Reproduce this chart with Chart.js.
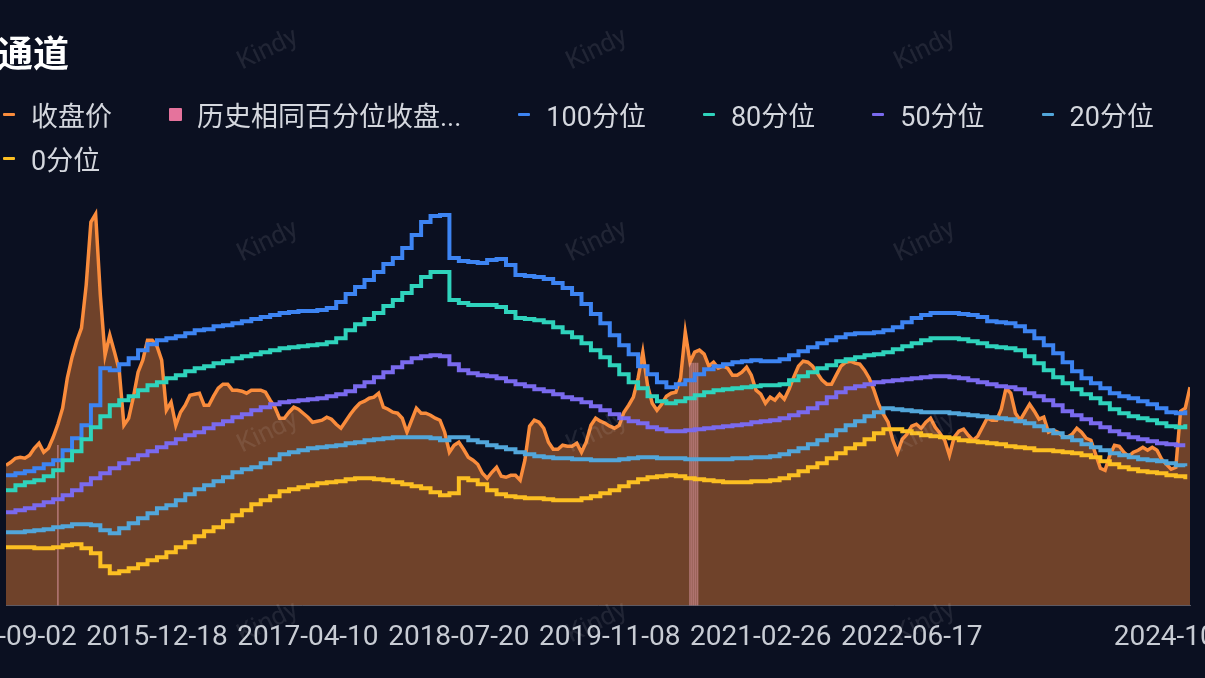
<!DOCTYPE html>
<html lang="zh">
<head>
<meta charset="utf-8">
<title>通道</title>
<script src="https://cdn.jsdelivr.net/npm/chart.js@4.4.1/dist/chart.umd.min.js"></script>
<style>
html, body { margin: 0; padding: 0; width: 1205px; height: 678px; overflow: hidden; background: #0b1021; }
#title { position: absolute; left: -3px; top: 33px; font: bold 36px "Noto Sans CJK SC", sans-serif; line-height: 1; color: #fff; z-index: 2; }
#legend { position: absolute; left: 3px; top: 99px; width: 1202px; display: flex; flex-wrap: wrap; column-gap: 57px; row-gap: 14px;
          font: 27px Roboto, "Noto Sans CJK SC", sans-serif; color: #d4d7de; z-index: 2; }
.item { display: flex; align-items: center; height: 30px; white-space: nowrap; }
.icon { display: inline-block; border-radius: 1px; }
#wrap { position: absolute; left: -200px; top: 0; width: 1605px; height: 678px; }
</style>
</head>
<body>
<div id="title">通道</div>
<div id="legend"></div>
<div id="wrap"><canvas id="chart"></canvas></div>
<script>
// trading-day span of the window and the dates shown on the axis
const totalDays = 2510;
const tickDays = [0, 320, 640, 960, 1280, 1600, 1920, 2498];
const tickLabels = ["2014-09-02", "2015-12-18", "2017-04-10", "2018-07-20", "2019-11-08", "2021-02-26", "2022-06-17", "2024-10-18"];

// close price, one value every 10 trading days
const closeVals = [
  14.0, 14.3, 14.7, 14.8, 14.7, 15.0, 15.7, 16.2, 15.3, 15.7,
  16.8, 18.1, 19.7, 22.7, 24.8, 26.4, 27.7, 32.0, 38.3, 39.1,
  31.0, 25.0, 27.0, 25.3, 23.5, 18.0, 18.7, 20.8, 23.3, 24.5,
  26.5, 26.5, 25.9, 24.5, 19.5, 20.3, 18.0, 19.3, 20.0, 21.0,
  21.1, 21.2, 20.0, 20.0, 20.9, 21.7, 22.1, 22.1, 21.5, 21.5,
  21.4, 21.2, 21.5, 21.5, 21.5, 21.3, 20.5, 19.8, 18.7, 18.7,
  19.3, 19.8, 19.6, 19.2, 18.8, 18.3, 18.4, 18.5, 18.8, 18.6,
  18.1, 17.7, 18.4, 19.1, 19.7, 20.2, 20.4, 20.7, 20.8, 21.2,
  19.8, 19.6, 19.3, 19.2, 18.7, 17.3, 18.5, 19.7, 19.2, 19.2,
  19.0, 18.7, 18.5, 17.3, 15.3, 16.0, 16.3, 15.6, 14.8, 14.5,
  14.1, 13.2, 12.7, 13.3, 13.8, 12.9, 12.8, 13.0, 13.0, 12.5,
  14.5, 17.9, 18.5, 18.3, 17.7, 16.3, 15.6, 15.6, 16.0, 15.9,
  15.9, 16.2, 15.3, 16.3, 18.0, 18.7, 18.4, 18.2, 17.9, 17.7,
  18.0, 19.3, 20.0, 20.8, 22.7, 25.3, 22.0, 20.2, 19.5, 20.1,
  20.9, 21.2, 21.3, 22.7, 27.3, 24.3, 25.3, 25.5, 25.1, 23.9,
  24.3, 23.7, 23.9, 23.7, 23.0, 23.0, 23.3, 23.8, 23.0, 21.5,
  21.1, 20.2, 20.8, 20.5, 21.1, 20.6, 21.6, 22.8, 23.9, 24.4,
  24.3, 23.9, 23.2, 22.5, 22.1, 22.1, 23.0, 23.9, 24.3, 24.4,
  24.2, 24.1, 23.5, 22.7, 21.5, 20.1, 19.1, 18.3, 16.5, 15.3,
  16.6, 17.1, 17.9, 18.1, 17.7, 18.3, 18.7, 17.8, 17.2, 16.5,
  15.0, 16.8, 17.4, 17.6, 17.0, 16.5, 16.9, 17.8, 18.7, 18.5,
  18.5, 19.6, 21.7, 21.2, 19.2, 18.5, 19.3, 20.1, 19.4, 18.6,
  18.8, 17.3, 17.5, 17.3, 16.9, 16.8, 17.1, 17.7, 17.3, 16.7,
  16.5, 15.1, 13.7, 13.5, 15.0, 16.0, 15.9, 15.3, 14.9, 15.3,
  15.5, 15.8, 15.5, 15.8, 15.5, 14.6, 14.1, 13.6, 13.8, 19.4,
  19.7, 21.8
];

// percentile channel lines, one value every 20 trading days
const p100Vals = [
  13.0, 13.2, 13.4, 13.7, 14.1, 14.5, 15.5, 16.7, 18.0, 20.0,
  23.7, 23.5, 24.1, 24.7, 25.5, 26.1, 26.5, 26.7, 26.9, 27.2,
  27.5, 27.6, 27.9, 28.0, 28.2, 28.4, 28.6, 28.8, 29.0, 29.2,
  29.3, 29.4, 29.4, 29.5, 29.7, 30.3, 31.1, 31.8, 32.5, 33.3,
  34.1, 34.7, 35.7, 37.0, 38.3, 38.9, 39.0, 34.7, 34.4, 34.3,
  34.2, 34.5, 34.6, 34.0, 33.0, 32.9, 32.8, 32.6, 32.2, 31.7,
  31.1, 30.1, 29.1, 28.2, 27.0, 26.0, 25.1, 23.9, 23.1, 22.3,
  21.8, 22.1, 22.5, 23.1, 23.6, 23.9, 24.1, 24.3, 24.4, 24.5,
  24.4, 24.4, 24.6, 25.0, 25.4, 25.8, 26.2, 26.5, 26.8, 27.1,
  27.2, 27.2, 27.3, 27.5, 27.8, 28.3, 28.7, 29.0, 29.2, 29.2,
  29.2, 29.1, 29.0, 28.8, 28.4, 28.3, 28.2, 27.9, 27.4, 26.7,
  26.0, 25.2, 24.3, 23.4, 22.7, 22.2, 21.7, 21.2, 20.9, 20.7,
  20.4, 20.1, 19.7, 19.3, 19.2, 19.5
];
const p80Vals = [
  11.5, 12.0, 12.3, 12.5, 12.9, 13.5, 14.5, 15.4, 16.6, 17.8,
  18.9, 20.0, 20.5, 20.9, 21.5, 22.0, 22.3, 22.7, 23.0, 23.4,
  23.7, 23.9, 24.2, 24.4, 24.7, 24.9, 25.1, 25.3, 25.5, 25.7,
  25.8, 25.9, 26.0, 26.1, 26.3, 26.7, 27.5, 28.1, 28.6, 29.2,
  29.9, 30.5, 31.2, 31.9, 32.8, 33.3, 33.3, 30.5, 30.2, 30.0,
  30.0, 30.0, 29.8, 29.3, 28.7, 28.6, 28.5, 28.3, 27.8, 27.3,
  26.8, 26.2, 25.5, 24.8, 24.0, 23.1, 22.3, 21.7, 20.9, 20.4,
  20.2, 20.4, 20.7, 21.0, 21.3, 21.5, 21.6, 21.7, 21.8, 21.9,
  22.0, 22.0, 22.1, 22.5, 22.9, 23.3, 23.7, 24.0, 24.4, 24.6,
  24.8, 25.0, 25.1, 25.3, 25.6, 25.9, 26.2, 26.5, 26.7, 26.7,
  26.7, 26.6, 26.4, 26.2, 25.9, 25.8, 25.7, 25.5, 24.9, 24.2,
  23.5, 22.8, 22.2, 21.6, 21.1, 20.7, 20.2, 19.6, 19.2, 18.9,
  18.7, 18.5, 18.2, 17.9, 17.8, 18.1
];
const p50Vals = [
  9.3, 9.5, 9.7, 10.0, 10.3, 10.6, 11.0, 11.5, 12.1, 12.7,
  13.2, 13.7, 14.2, 14.6, 15.0, 15.4, 15.8, 16.2, 16.6, 17.0,
  17.3, 17.7, 18.1, 18.4, 18.8, 19.1, 19.5, 19.8, 20.1, 20.3,
  20.4, 20.5, 20.6, 20.7, 20.9, 21.1, 21.4, 21.9, 22.3, 22.8,
  23.3, 23.8, 24.3, 24.7, 24.9, 25.0, 24.9, 24.1, 23.5, 23.2,
  23.0, 22.9, 22.7, 22.4, 22.1, 21.9, 21.6, 21.4, 21.1, 20.8,
  20.6, 20.3, 19.9, 19.5, 19.1, 18.7, 18.4, 18.2, 17.8, 17.6,
  17.4, 17.4, 17.5, 17.6, 17.7, 17.8, 17.9, 18.0, 18.1, 18.3,
  18.4, 18.5, 18.7, 19.0, 19.3, 19.7, 20.2, 20.8, 21.3, 21.7,
  21.9, 22.1, 22.3, 22.4, 22.5, 22.6, 22.7, 22.8, 22.9, 22.9,
  22.8, 22.7, 22.5, 22.3, 22.1, 21.9, 21.8, 21.6, 21.2, 20.9,
  20.5, 20.0, 19.4, 19.0, 18.6, 18.2, 17.8, 17.4, 17.1, 16.8,
  16.6, 16.4, 16.2, 16.1, 16.0, 16.0
];
const p20Vals = [
  7.3, 7.3, 7.4, 7.5, 7.6, 7.8, 7.9, 8.1, 8.1, 8.0,
  7.5, 7.2, 7.7, 8.2, 8.7, 9.2, 9.7, 10.0, 10.5, 11.1,
  11.6, 12.0, 12.4, 12.8, 13.3, 13.6, 13.8, 14.2, 14.6, 15.1,
  15.3, 15.5, 15.7, 15.8, 15.9, 16.0, 16.2, 16.3, 16.5, 16.6,
  16.7, 16.8, 16.8, 16.8, 16.8, 16.7, 16.5, 16.8, 16.8, 16.5,
  16.3, 16.0, 15.8, 15.6, 15.3, 15.1, 14.9, 14.8, 14.7, 14.7,
  14.6, 14.6, 14.5, 14.5, 14.5, 14.6, 14.7, 14.8, 14.8, 14.7,
  14.7, 14.7, 14.6, 14.6, 14.6, 14.6, 14.6, 14.7, 14.7, 14.8,
  14.8, 14.9, 15.1, 15.4, 15.7, 16.1, 16.5, 17.0, 17.5, 18.0,
  18.4, 18.9, 19.3, 19.7, 19.6, 19.5, 19.4, 19.3, 19.3, 19.3,
  19.2, 19.1, 19.0, 18.9, 18.8, 18.7, 18.6, 18.4, 18.2, 17.9,
  17.5, 17.2, 16.8, 16.5, 16.1, 15.8, 15.5, 15.2, 15.0, 14.8,
  14.6, 14.5, 14.4, 14.2, 14.0, 13.9
];
const p0Vals = [
  5.8, 5.8, 5.8, 5.7, 5.7, 5.8, 6.0, 6.1, 5.7, 5.2,
  3.9, 3.2, 3.4, 3.7, 4.1, 4.5, 4.8, 5.3, 5.8, 6.3,
  6.9, 7.4, 7.8, 8.4, 9.0, 9.5, 10.1, 10.5, 10.9, 11.4,
  11.6, 11.8, 12.0, 12.2, 12.3, 12.4, 12.6, 12.7, 12.7, 12.6,
  12.5, 12.3, 12.1, 11.9, 11.7, 11.3, 11.0, 11.2, 12.7, 12.5,
  12.1, 11.5, 11.1, 10.9, 10.8, 10.7, 10.7, 10.6, 10.5, 10.5,
  10.5, 10.7, 10.9, 11.2, 11.5, 11.9, 12.3, 12.6, 12.8, 12.9,
  13.0, 12.9, 12.7, 12.6, 12.5, 12.4, 12.3, 12.3, 12.3, 12.4,
  12.4, 12.5, 12.7, 13.0, 13.4, 13.8, 14.2, 14.7, 15.2, 15.7,
  16.1, 16.6, 17.2, 17.6, 17.6, 17.4, 17.2, 17.0, 16.9, 16.8,
  16.7, 16.5, 16.4, 16.3, 16.2, 16.1, 15.9, 15.8, 15.7, 15.5,
  15.5, 15.4, 15.3, 15.2, 15.0, 14.8, 14.4, 14.1, 13.8, 13.6,
  13.4, 13.3, 13.2, 13.0, 12.9, 12.6
];

// days where the historical same-percentile close is marked
const pinkDays = [110, 1450, 1454, 1458, 1462, 1466];
const pinkVals = [16.0, 24.2, 24.2, 24.2, 24.2, 24.2];

const series = (vals, step) => vals.map((v, i) => ({ x: Math.min(i * step, totalDays), y: v }));

const band = (label, vals, color, order) => ({
    label, data: series(vals, 20), borderColor: color, backgroundColor: color, borderWidth: 4,
    stepped: true, pointRadius: 0, fill: false, order
});

const watermark = {
    id: "watermark",
    afterDraw(chart) {
        const ctx = chart.ctx;
        ctx.save();
        ctx.font = "26px Roboto, sans-serif";
        ctx.fillStyle = "rgba(255,255,255,0.09)";
        ctx.textAlign = "center";
        ctx.textBaseline = "middle";
        [50, 242, 433, 623].forEach(y => [268, 597, 925].forEach(x => {
            ctx.save();
            ctx.translate(x + 200, y);
            ctx.rotate(-0.45);
            ctx.fillText("Kindy", 0, 0);
            ctx.restore();
        }));
        ctx.restore();
    }
};

const chart = new Chart(document.getElementById("chart"), {
    type: "line",
    data: {
        datasets: [
            { label: "收盘价", data: series(closeVals, 10), borderColor: "#fa8c3c", backgroundColor: "rgba(250,135,55,0.42)",
              borderWidth: 3.5, pointRadius: 0, fill: "origin", order: 7 },
            { type: "bar", label: "历史相同百分位收盘价", data: pinkDays.map((d, i) => ({ x: d, y: pinkVals[i] })),
              backgroundColor: "rgba(240,165,182,0.5)", barThickness: 1, order: 6 },
            band("100分位", p100Vals, "#3d84f2", 5),
            band("80分位", p80Vals, "#2fd3bc", 4),
            band("50分位", p50Vals, "#7a6aee", 3),
            band("20分位", p20Vals, "#52a6da", 2),
            band("0分位", p0Vals, "#fcbf22", 1)
        ]
    },
    options: {
        responsive: true,
        maintainAspectRatio: false,
        animation: false,
        events: [],
        layout: { padding: { left: 206, right: 215, top: 190, bottom: 7 } },
        plugins: { legend: { display: false }, tooltip: { enabled: false } },
        scales: {
            x: {
                type: "linear", min: 0, max: totalDays, offset: false,
                grid: { display: false, drawTicks: false },
                border: { display: true, color: "rgba(150,150,160,0.55)", width: 1 },
                afterBuildTicks: s => { s.ticks = tickDays.map(v => ({ value: v })); },
                ticks: {
                    autoSkip: false, maxRotation: 0, padding: 16, color: "#c8ccd4",
                    font: { family: "Roboto", size: 28 },
                    callback: v => { const i = tickDays.indexOf(v); return i < 0 ? "" : tickLabels[i]; }
                }
            },
            y: { display: false, min: 0, max: 41.5 }
        }
    },
    plugins: [watermark]
});

// html legend, items in dataset order
const iconColors = { "历史相同百分位收盘价": "#e5739c" };
const measure = document.createElement("canvas").getContext("2d");
measure.font = '27px Roboto, "Noto Sans CJK SC"';
const fitLabel = (txt, max) => {
    if (measure.measureText(txt).width <= max) return txt;
    let s = txt;
    while (s.length && measure.measureText(s + "...").width > max) s = s.slice(0, -1);
    return s + "...";
};

const legend = document.getElementById("legend");
chart.data.datasets.forEach(ds => {
    const item = document.createElement("div");
    item.className = "item";
    const icon = document.createElement("span");
    icon.className = "icon";
    const isBar = ds.type === "bar";
    icon.style.width = isBar ? "13px" : "12px";
    icon.style.height = isBar ? "13px" : "3px";
    icon.style.marginRight = isBar ? "15px" : "16px";
    icon.style.background = iconColors[ds.label] || ds.borderColor;
    const txt = document.createElement("span");
    txt.textContent = fitLabel(ds.label, 266);
    item.appendChild(icon);
    item.appendChild(txt);
    legend.appendChild(item);
});
</script>
</body>
</html>
